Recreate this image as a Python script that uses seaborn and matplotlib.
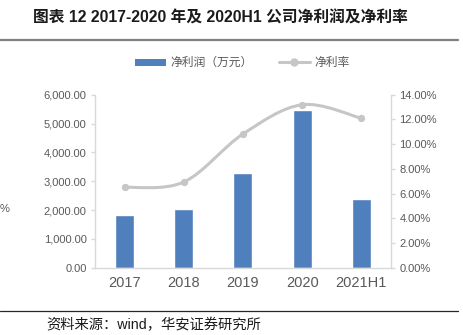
import numpy as np
import pandas as pd
import matplotlib
matplotlib.use("Agg")
import matplotlib.pyplot as plt
import seaborn as sns
from matplotlib.path import Path
from matplotlib.patches import PathPatch, Patch
from matplotlib.lines import Line2D
from matplotlib.ticker import FuncFormatter, MultipleLocator

sns.set_theme(style="white")
plt.rcParams["font.family"] = ["Liberation Sans", "Noto Sans CJK SC", "DejaVu Sans"]

# Data
years = ["2017", "2018", "2019", "2020", "2021H1"]
net_profit = [1830, 2030, 3280, 5470, 2380]          # 万元
net_margin = [6.50, 6.93, 10.82, 13.19, 12.09]      # %

title = "图表 12 2017-2020 年及 2020H1 公司净利润及净利率"
source = "资料来源：wind，华安证券研究所"
bar_label = "净利润（万元）"
line_label = "净利率"

BAR_COLOR = "#4f7fbd"
LINE_COLOR = "#c6c6c6"
TEXT_COLOR = "#595959"
SPINE_COLOR = "#d9d9d9"

df = pd.DataFrame({"year": years, "profit": net_profit, "margin": net_margin})

fig = plt.figure(figsize=(4.63, 3.35), dpi=100)
ax = fig.add_axes([0.205, 0.2009, 0.6395, 0.5164])

sns.barplot(data=df, x="year", y="profit", color=BAR_COLOR, width=0.32,
            saturation=1, ax=ax, zorder=2)
ax.set_ylim(0, 6000)
ax.set_xlim(-0.5, len(years) - 0.5)
ax.yaxis.set_major_locator(MultipleLocator(1000))
ax.yaxis.set_major_formatter(FuncFormatter(lambda v, p: f"{v:,.2f}"))
ax.set_xlabel("")
ax.set_ylabel("")

ax2 = ax.twinx()
ax2.set_ylim(0, 14)
ax2.yaxis.set_major_locator(MultipleLocator(2))
ax2.yaxis.set_major_formatter(FuncFormatter(lambda v, p: f"{v:.2f}%"))

# Smoothed margin line (Catmull-Rom through the data points)
xs = np.arange(len(years), dtype=float)
ys = np.asarray(net_margin, dtype=float)
pts = np.column_stack([xs, ys])
verts = [tuple(pts[0])]
codes = [Path.MOVETO]
for i in range(len(pts) - 1):
    p0 = pts[i - 1] if i > 0 else pts[i]
    p1 = pts[i]
    p2 = pts[i + 1]
    p3 = pts[i + 2] if i + 2 < len(pts) else pts[i + 1]
    c1 = p1 + (p2 - p0) / 6.0
    c2 = p2 - (p3 - p1) / 6.0
    verts += [tuple(c1), tuple(c2), tuple(p2)]
    codes += [Path.CURVE4] * 3
ax2.add_patch(PathPatch(Path(verts, codes), facecolor="none",
                        edgecolor=LINE_COLOR, lw=2.2, zorder=3))
sns.scatterplot(x=xs, y=ys, ax=ax2, color=LINE_COLOR, s=28,
                edgecolor=LINE_COLOR, linewidth=0, zorder=4, legend=False)
ax2.set_xlim(-0.5, len(years) - 0.5)

for a in (ax, ax2):
    for s in a.spines.values():
        s.set_visible(False)
ax.spines["left"].set_visible(True)
ax.spines["bottom"].set_visible(True)
ax2.spines["right"].set_visible(True)
for s in (ax.spines["left"], ax.spines["bottom"], ax2.spines["right"]):
    s.set_color(SPINE_COLOR)
    s.set_linewidth(1.0)

ax.tick_params(axis="y", which="major", direction="out", length=3, width=1,
               color=SPINE_COLOR, labelcolor=TEXT_COLOR, labelsize=8, pad=3,
               left=True)
ax.tick_params(axis="x", length=0, labelcolor=TEXT_COLOR, labelsize=10.5, pad=6)
ax2.tick_params(axis="y", which="major", direction="out", length=3, width=1,
                color=SPINE_COLOR, labelcolor=TEXT_COLOR, labelsize=8, pad=3,
                right=True)
ax.grid(False)
ax2.grid(False)

# Legend
handles = [Patch(facecolor=BAR_COLOR, edgecolor="none"),
           Line2D([], [], color=LINE_COLOR, lw=2.2, marker="o", markersize=5)]
fig.legend(handles, [bar_label, line_label], loc="center",
           bbox_to_anchor=(0.524, 0.811), ncol=2, frameon=False,
           fontsize=8.5, labelcolor=TEXT_COLOR, handlelength=2.6,
           handleheight=0.55, handletextpad=0.4, columnspacing=2.2)

# Title, rules and source note
fig.text(0.071, 0.947, title, fontsize=11.3, fontweight="bold",
         color="#1a1a1a", ha="left", va="center")
fig.add_artist(Line2D([0.0, 0.99], [0.881, 0.881], color="#7f7f7f", lw=1.6))
fig.add_artist(Line2D([0.0, 0.99], [0.072, 0.072], color="#262626", lw=0.9))
fig.text(0.099, 0.030, source, fontsize=10.3, color="#1a1a1a",
         ha="left", va="center")
fig.text(0.0, 0.376, "%", fontsize=8, color=TEXT_COLOR, ha="left", va="center")

fig.savefig("out.png", dpi=100, facecolor="white")
